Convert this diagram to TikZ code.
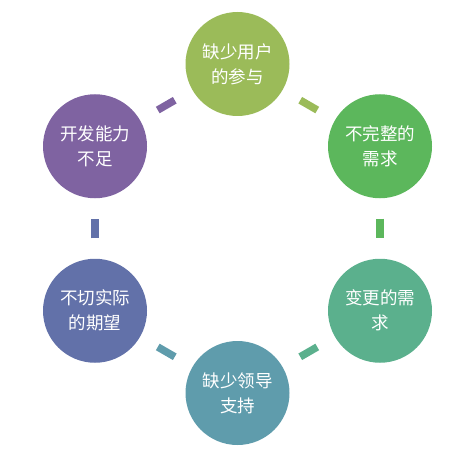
\documentclass[tikz,border=0pt]{standalone}
\usepackage{fontspec}
\newfontfamily\cjk{Noto Sans CJK SC}
\usetikzlibrary{positioning}
\definecolor{cOlive}{HTML}{9BBB59}
\definecolor{cGreen}{HTML}{5CB75C}
\definecolor{cSea}{HTML}{5BB08D}
\definecolor{cTeal}{HTML}{5F9CAC}
\definecolor{cIndigo}{HTML}{6271A9}
\definecolor{cPurple}{HTML}{7F63A1}
\tikzset{
  stage/.style = {circle, fill=#1, draw=none, minimum size=104pt, inner sep=0pt,
                  text=white, align=center, font=\cjk\fontsize{17.5}{25}\selectfont},
  link/.style  = {draw=#1, line width=7.5pt, shorten <=20.25pt, shorten >=20.25pt},
}

\begin{document}
\begin{tikzpicture}[x=1pt,y=1pt]
  \useasboundingbox (0,0) rectangle (473,456);
  \node[stage=cOlive]  (lackuser)   at (237.5,392)    {缺少用户\\的参与};
  \node[stage=cGreen]  (incomplete) at (380,309.75)   {不完整的\\需求};
  \node[stage=cSea]    (changing)   at (380,145.25)   {变更的需\\求};
  \node[stage=cTeal]   (lacklead)   at (237.5,63)     {缺少领导\\支持};
  \node[stage=cIndigo] (unreal)     at (95,145.25)    {不切实际\\的期望};
  \node[stage=cPurple] (lowskill)   at (95,309.75)    {开发能力\\不足};
  % short bars between neighbours, coloured after the first circle
  \draw[link=cOlive]  (lackuser)   -- (incomplete);
  \draw[link=cGreen]  (incomplete) -- (changing);
  \draw[link=cSea]    (changing)   -- (lacklead);
  \draw[link=cTeal]   (lacklead)   -- (unreal);
  \draw[link=cIndigo] (unreal)     -- (lowskill);
  \draw[link=cPurple] (lowskill)   -- (lackuser);
\end{tikzpicture}
\end{document}
